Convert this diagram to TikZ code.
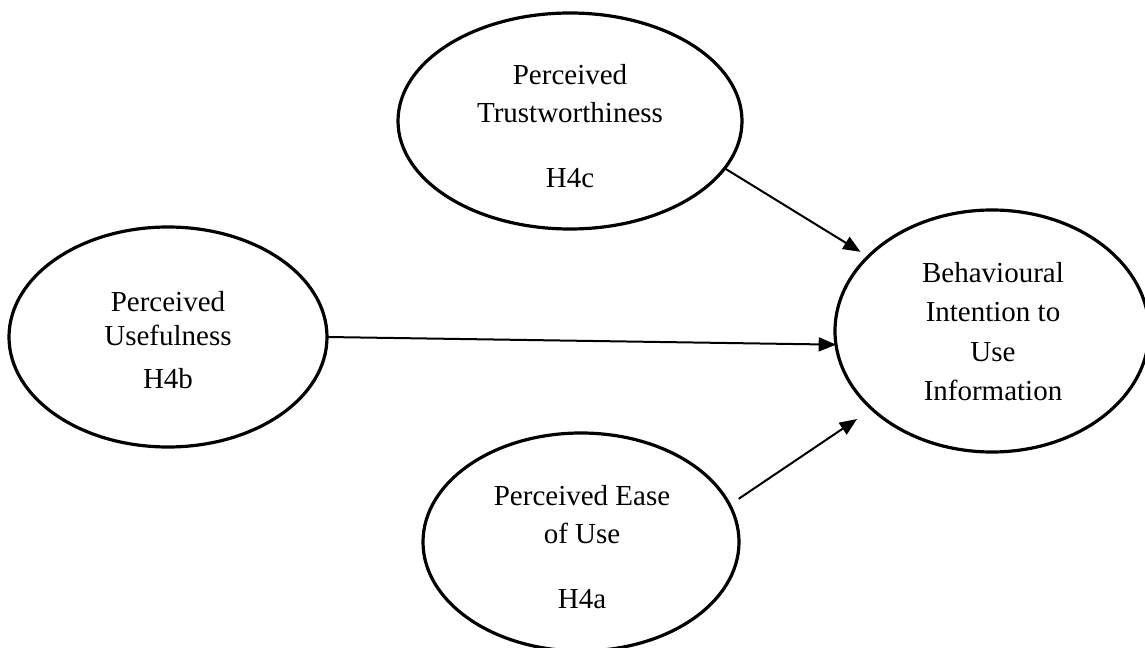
\documentclass[tikz,border=0pt]{standalone}
\usepackage{fontspec}
\setmainfont{Liberation Serif}
\usetikzlibrary{arrows.meta,shapes.geometric}
\begin{document}
\begin{tikzpicture}[x=0.75pt,y=-0.75pt,
  ell/.style={draw=black, line width=2.4pt, ellipse, inner sep=0pt, outer sep=0pt},
  lbl/.style={anchor=base, inner sep=0pt, font=\fontsize{21.75pt}{26pt}\selectfont},
  conn/.style={draw=black, line width=1.5pt, -{Triangle[length=13pt,width=10.5pt]}}]
\useasboundingbox (0,0) rectangle (1145,648);
% ellipses
\node[ell, minimum width=258pt, minimum height=162pt] (T) at (570,121) {};
\node[ell, minimum width=238.5pt, minimum height=165pt] (U) at (168,337) {};
\node[ell, minimum width=235.5pt, minimum height=181.5pt] (B) at (992,331) {};
\node[ell, minimum width=237pt, minimum height=163.5pt] (E) at (581,542) {};
% texts
\node[lbl] (t1) at (570,85) {Perceived};
\node[lbl] (t2) at (570,123) {Trustworthiness};
\node[lbl] (t3) at (570,188) {H4c};
\node[lbl] (u1) at (168,312) {Perceived};
\node[lbl] (u2) at (168,345) {Usefulness};
\node[lbl] (u3) at (168,388) {H4b};
\node[lbl] (b1) at (993,283) {Behavioural};
\node[lbl] (b2) at (993,322) {Intention to};
\node[lbl] (b3) at (993,361) {Use};
\node[lbl] (b4) at (993,400) {Information};
\node[lbl] (e1) at (582,505) {Perceived Ease};
\node[lbl] (e2) at (582,543) {of Use};
\node[lbl] (e3) at (582,608) {H4a};
% connectors
\draw[conn, shorten >=6.75pt] (T.-17) -- (B.149);
\draw[conn] (U.east) -- (B.185);
\draw[conn, shorten <=8.25pt, shorten >=13.5pt] (E.14) -- (B.213.6);
\end{tikzpicture}
\end{document}
